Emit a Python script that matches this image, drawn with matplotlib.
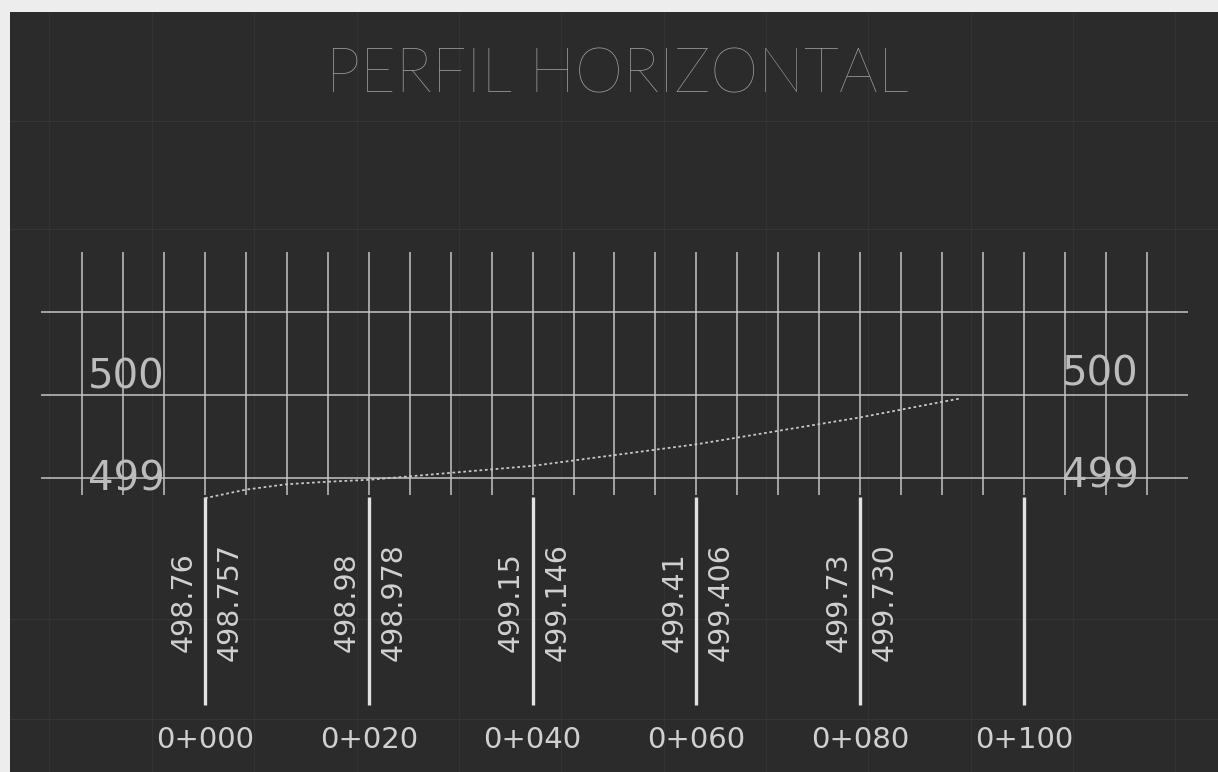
import numpy as np
import matplotlib.pyplot as plt

# stations (m) and the labels printed at them
stations = [0, 20, 40, 60, 80, 100]
station_labels = ['0+000', '0+020', '0+040', '0+060', '0+080', '0+100']
terrain_txt = ['498.76', '498.98', '499.15', '499.41', '499.73']
grade_txt = ['498.757', '498.978', '499.146', '499.406', '499.730']

# dotted profile
prof_s = [0, 5, 10, 15, 20, 40, 60, 80, 92.3]
prof_z = [498.757, 498.86, 498.925, 498.955, 498.978, 499.146, 499.406, 499.730, 499.96]

grid_s = np.arange(-15, 116, 5)
grid_z = [499, 500, 501]
elev_labels = ['499', '500']

fig = plt.figure(figsize=(12.18, 7.72), dpi=100, facecolor='#ededed')
ax = fig.add_axes([10 / 1218, 0, 1 - 10 / 1218, 1 - 12 / 772])
ax.set_facecolor('#2b2b2b')
ax.set_xlim(-23.81, 123.69)
ax.set_ylim(495.458, 504.614)
ax.set_xticks([])
ax.set_yticks([])
for sp in ax.spines.values():
    sp.set_visible(False)

# faint background lines (screen grid)
for yy in [503.3, 502.0, 497.3, 496.1]:
    ax.axhline(yy, color='#363636', lw=0.8, zorder=1)
for xx in [-19.0, -6.5, 6.0, 18.5, 31.0, 43.5, 56.0, 68.5, 81.0, 93.5, 106.0, 118.5]:
    ax.axvline(xx, color='#333333', lw=0.8, zorder=1)

# grid
ax.vlines(grid_s, 498.8, 501.72, color='#c4c4c4', lw=1.1, zorder=2)
ax.hlines(grid_z, -20, 120, color='#c4c4c4', lw=1.1, zorder=2)

# elevation labels on both sides
for lab, z0 in zip(elev_labels, [498.855, 500.084]):
    ax.text(-14.3, z0, lab, color='#bcbcbc', fontsize=29, ha='left', va='baseline', zorder=3)
    ax.text(104.6, z0 + 0.03, lab, color='#bcbcbc', fontsize=29, ha='left', va='baseline', zorder=3)

# profile
ax.plot(prof_s, prof_z, color='#c8c8c8', lw=1.3, ls=(0, (1.5, 1.5)), zorder=4)

# station lines and labels
ax.vlines(stations, 496.265, 498.77, color='#e2e2e2', lw=2.4, zorder=3)
for s, lab in zip(stations, station_labels):
    ax.text(s, 495.747, lab, color='#d0d0d0', fontsize=21, ha='center', va='baseline')
for s, t, g in zip(stations, terrain_txt, grade_txt):
    ax.text(s - 2.65, 497.506, t, color='#d0d0d0', fontsize=20.5, rotation=90,
            ha='center', va='center')
    ax.text(s + 3.0, 497.506, g, color='#d0d0d0', fontsize=20.5, rotation=90,
            ha='center', va='center')

ax.text(50.3, 503.64, 'PERFIL HORIZONTAL', color='#a2a2a2', fontsize=44,
        family=['Lato', 'DejaVu Sans'], fontweight='light', ha='center', va='baseline')

plt.savefig('out.png', dpi=100, facecolor=fig.get_facecolor())
